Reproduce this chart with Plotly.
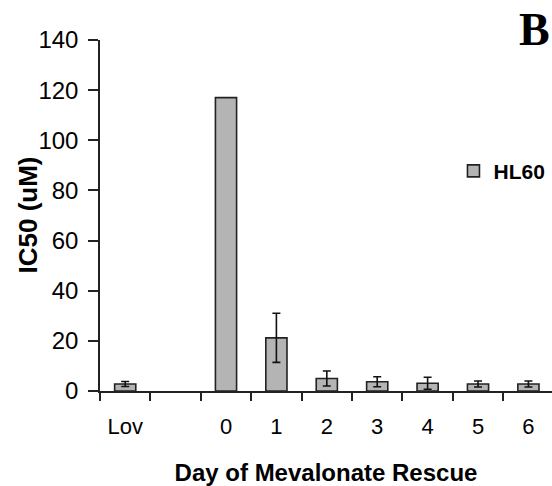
import plotly.graph_objects as go

categories = ["Lov", " ", "0", "1", "2", "3", "4", "5", "6"]
ic50_hl60 = [2.8, None, 117, 21.2, 5.0, 3.7, 3.1, 2.8, 2.8]
ic50_err = [1.0, None, None, 9.8, 3.0, 2.0, 2.4, 1.2, 1.2]
y_ticks = [0, 20, 40, 60, 80, 100, 120, 140]

narrow = "Liberation Sans Narrow, Arial Narrow, Liberation Sans, Arial, sans-serif"

fig = go.Figure()
fig.add_trace(go.Bar(
    x=categories, y=ic50_hl60, name="HL60",
    width=0.42,
    marker=dict(color="#b4b4b4", line=dict(color="#222222", width=1.6)),
))
# error bars only where an error value exists
err_y = [v if e is not None else None for v, e in zip(ic50_hl60, ic50_err)]
err_a = [e if e is not None else 0 for e in ic50_err]
fig.add_trace(go.Scatter(
    x=categories, y=err_y, mode="markers", marker=dict(size=0.1, opacity=0),
    showlegend=False, hoverinfo="skip",
    error_y=dict(type="data", array=err_a, visible=True,
                 color="#111111", thickness=1.6, width=4),
))

fig.update_layout(
    width=552, height=486,
    margin=dict(l=100, r=0, t=40, b=95, autoexpand=False),
    paper_bgcolor="white", plot_bgcolor="white",
    showlegend=True,
    legend=dict(x=0.782, y=0.626, xanchor="left", yanchor="middle",
                font=dict(family=narrow, size=21, color="black", weight="bold"),
                bgcolor="rgba(0,0,0,0)", itemwidth=30),
    font=dict(family=narrow, color="black"),
)
fig.add_annotation(text="<b>B</b>", x=1.0, y=1.03, xref="paper", yref="paper",
                   xanchor="right", yanchor="middle", showarrow=False,
                   font=dict(family="Liberation Serif, Times New Roman, serif", size=46, color="black"))
fig.add_annotation(text="<b>IC50 (uM)</b>", x=-0.1615, y=0.5, xref="paper", yref="paper",
                   xanchor="center", yanchor="middle", showarrow=False, textangle=-90,
                   font=dict(family=narrow, size=26, color="black"))

fig.update_xaxes(
    type="category", categoryorder="array", categoryarray=categories,
    range=[-0.5, 8.468],
    showline=True, linecolor="#222222", linewidth=1.5,
    ticks="outside", tickson="boundaries", ticklen=8, tickwidth=1.5, tickcolor="#222222",
    tickfont=dict(family=narrow, size=22, color="black"),
    ticklabelstandoff=15,
    title=dict(text="<b>Day of Mevalonate Rescue</b>",
               font=dict(family=narrow, size=24, color="black"), standoff=26),
    showgrid=False, zeroline=False, fixedrange=True,
)
fig.update_yaxes(
    range=[0, 140], tickvals=y_ticks,
    showline=True, linecolor="#222222", linewidth=1.5,
    ticks="outside", ticklen=10, tickwidth=1.5, tickcolor="#222222",
    tickfont=dict(family=narrow, size=24, color="black"),
    ticklabelstandoff=5,
    showgrid=False, zeroline=False, fixedrange=True,
)

fig.write_html("out.html")
